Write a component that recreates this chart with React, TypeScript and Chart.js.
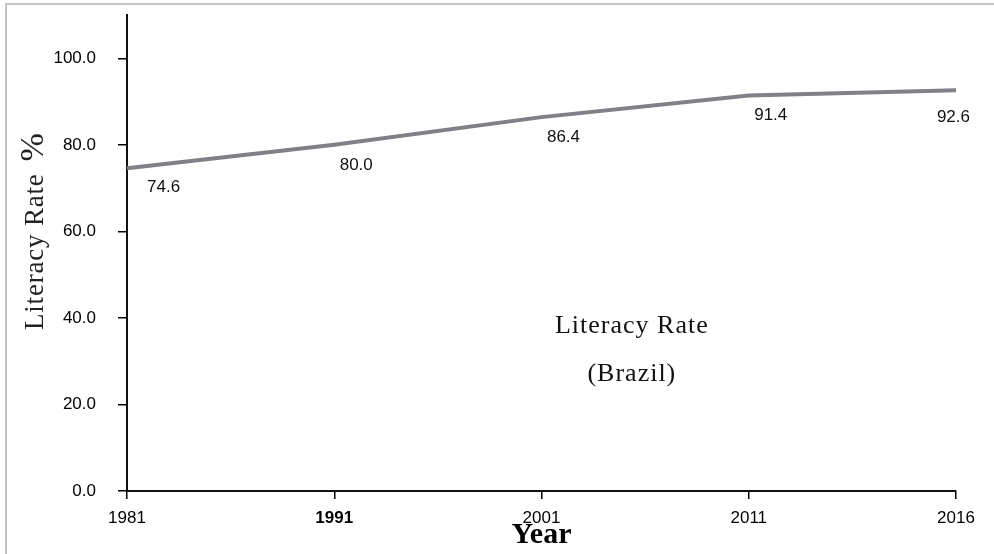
import { useEffect, useRef } from "react";
import { Chart, registerables } from "chart.js";

Chart.register(...registerables);

const years = ["1981", "1991", "2001", "2011", "2016"];
const literacyRate = [74.6, 80.0, 86.4, 91.4, 92.6];
const yTickValues = [0, 20, 40, 60, 80, 100];
const yAxisMax = 110;
const yTitle = "Literacy Rate";
const yTitleUnit = "%";
const xTitle = "Year";
const noteLines = ["Literacy Rate", "(Brazil)"];

const SANS = '"Liberation Sans", Arial, sans-serif';
const SERIF = '"Liberation Serif", "Times New Roman", serif';

const decorPlugin = {
  id: "decor",
  beforeDraw(chart: any) {
    const { ctx, width, height } = chart;
    ctx.save();
    ctx.strokeStyle = "#c4c4c4";
    ctx.lineWidth = 2;
    ctx.beginPath();
    ctx.moveTo(6, height);
    ctx.lineTo(6, 4);
    ctx.lineTo(width, 4);
    ctx.stroke();
    ctx.restore();
  },
  afterDatasetsDraw(chart: any) {
    const { ctx } = chart;
    const meta = chart.getDatasetMeta(0);
    const n = meta.data.length;
    ctx.save();
    ctx.fillStyle = "#111";
    ctx.font = `17px ${SANS}`;
    ctx.textBaseline = "middle";
    meta.data.forEach((pt: any, i: number) => {
      const txt = literacyRate[i].toFixed(1);
      if (i === 0) {
        ctx.textAlign = "left";
        ctx.fillText(txt, pt.x + 20, pt.y + 19);
      } else if (i === n - 1) {
        ctx.textAlign = "right";
        ctx.fillText(txt, pt.x + 14, pt.y + 27);
      } else {
        ctx.textAlign = "center";
        ctx.fillText(txt, pt.x + 22, pt.y + 20);
      }
    });
    ctx.restore();
  },
  afterDraw(chart: any) {
    const { ctx, chartArea } = chart;
    ctx.save();
    // y-axis title (rotated)
    ctx.translate(43, 330);
    ctx.rotate(-Math.PI / 2);
    ctx.fillStyle = "#222";
    ctx.textAlign = "left";
    ctx.textBaseline = "alphabetic";
    ctx.font = `27px ${SERIF}`;
    (ctx as any).letterSpacing = "0.8px";
    ctx.fillText(yTitle, 0, 0);
    const w = ctx.measureText(yTitle).width;
    (ctx as any).letterSpacing = "0px";
    ctx.font = `34px ${SERIF}`;
    ctx.fillText(yTitleUnit, w + 12, 0);
    ctx.restore();

    // note text inside plot
    ctx.save();
    ctx.fillStyle = "#111";
    ctx.textAlign = "center";
    ctx.textBaseline = "alphabetic";
    ctx.font = `26px ${SERIF}`;
    (ctx as any).letterSpacing = "1px";
    const cx = chartArea.left + (chartArea.right - chartArea.left) * 0.609;
    const h = chartArea.bottom - chartArea.top;
    ctx.fillText(noteLines[0], cx, chartArea.top + h * 0.668);
    ctx.fillText(noteLines[1], cx, chartArea.top + h * 0.768);
    ctx.restore();
  },
};

export default function App() {
  const ref = useRef<HTMLCanvasElement | null>(null);

  useEffect(() => {
    if (!ref.current) return;
    const chart = new Chart(ref.current, {
      type: "line",
      data: {
        labels: years,
        datasets: [
          {
            label: "Literacy Rate (Brazil)",
            data: literacyRate,
            borderColor: "#808086",
            borderWidth: 4,
            pointRadius: 0,
            pointHoverRadius: 0,
            tension: 0,
            fill: false,
          },
        ],
      },
      options: {
        animation: false,
        responsive: true,
        maintainAspectRatio: false,
        layout: { padding: { top: 15, right: 38, left: 0, bottom: 0 } },
        plugins: {
          legend: { display: false },
          tooltip: { enabled: false },
          title: { display: false },
        },
        scales: {
          x: {
            type: "category",
            offset: false,
            afterFit(scale: any) {
              scale.height = 63;
            },
            grid: {
              display: true,
              drawOnChartArea: false,
              drawTicks: true,
              tickLength: 8,
              color: "#000",
              lineWidth: 1.5,
            },
            border: { display: true, color: "#111", width: 2 },
            ticks: {
              color: "#000",
              padding: 9,
              maxRotation: 0,
              autoSkip: false,
              font: (c: any) => ({
                family: SANS,
                size: 17,
                weight: c.index === 1 ? "bold" : "normal",
              }),
            },
            title: {
              display: true,
              text: xTitle,
              color: "#000",
              font: { family: SERIF, size: 30, weight: "bold" },
              padding: { top: 0, bottom: 1 },
            },
          },
          y: {
            type: "linear",
            min: 0,
            max: yAxisMax,
            afterFit(scale: any) {
              scale.width = 127;
              scale.paddingTop = 0;
              scale.paddingBottom = 0;
            },
            afterBuildTicks(scale: any) {
              scale.ticks = yTickValues.map((v) => ({ value: v }));
            },
            grid: {
              display: true,
              drawOnChartArea: false,
              drawTicks: true,
              tickLength: 9,
              color: "#000",
              lineWidth: 1.5,
            },
            border: { display: true, color: "#111", width: 2 },
            ticks: {
              color: "#000",
              padding: 22,
              font: { family: SANS, size: 17 },
              callback: (v: any) => Number(v).toFixed(1),
            },
            title: { display: false },
          },
        },
      },
      plugins: [decorPlugin],
    });
    return () => chart.destroy();
  }, []);

  return (
    <div
      style={{
        position: "fixed",
        left: 0,
        top: 0,
        width: 994,
        height: 554,
        background: "#fff",
      }}
    >
      <canvas ref={ref} style={{ width: 994, height: 554 }} />
    </div>
  );
}
